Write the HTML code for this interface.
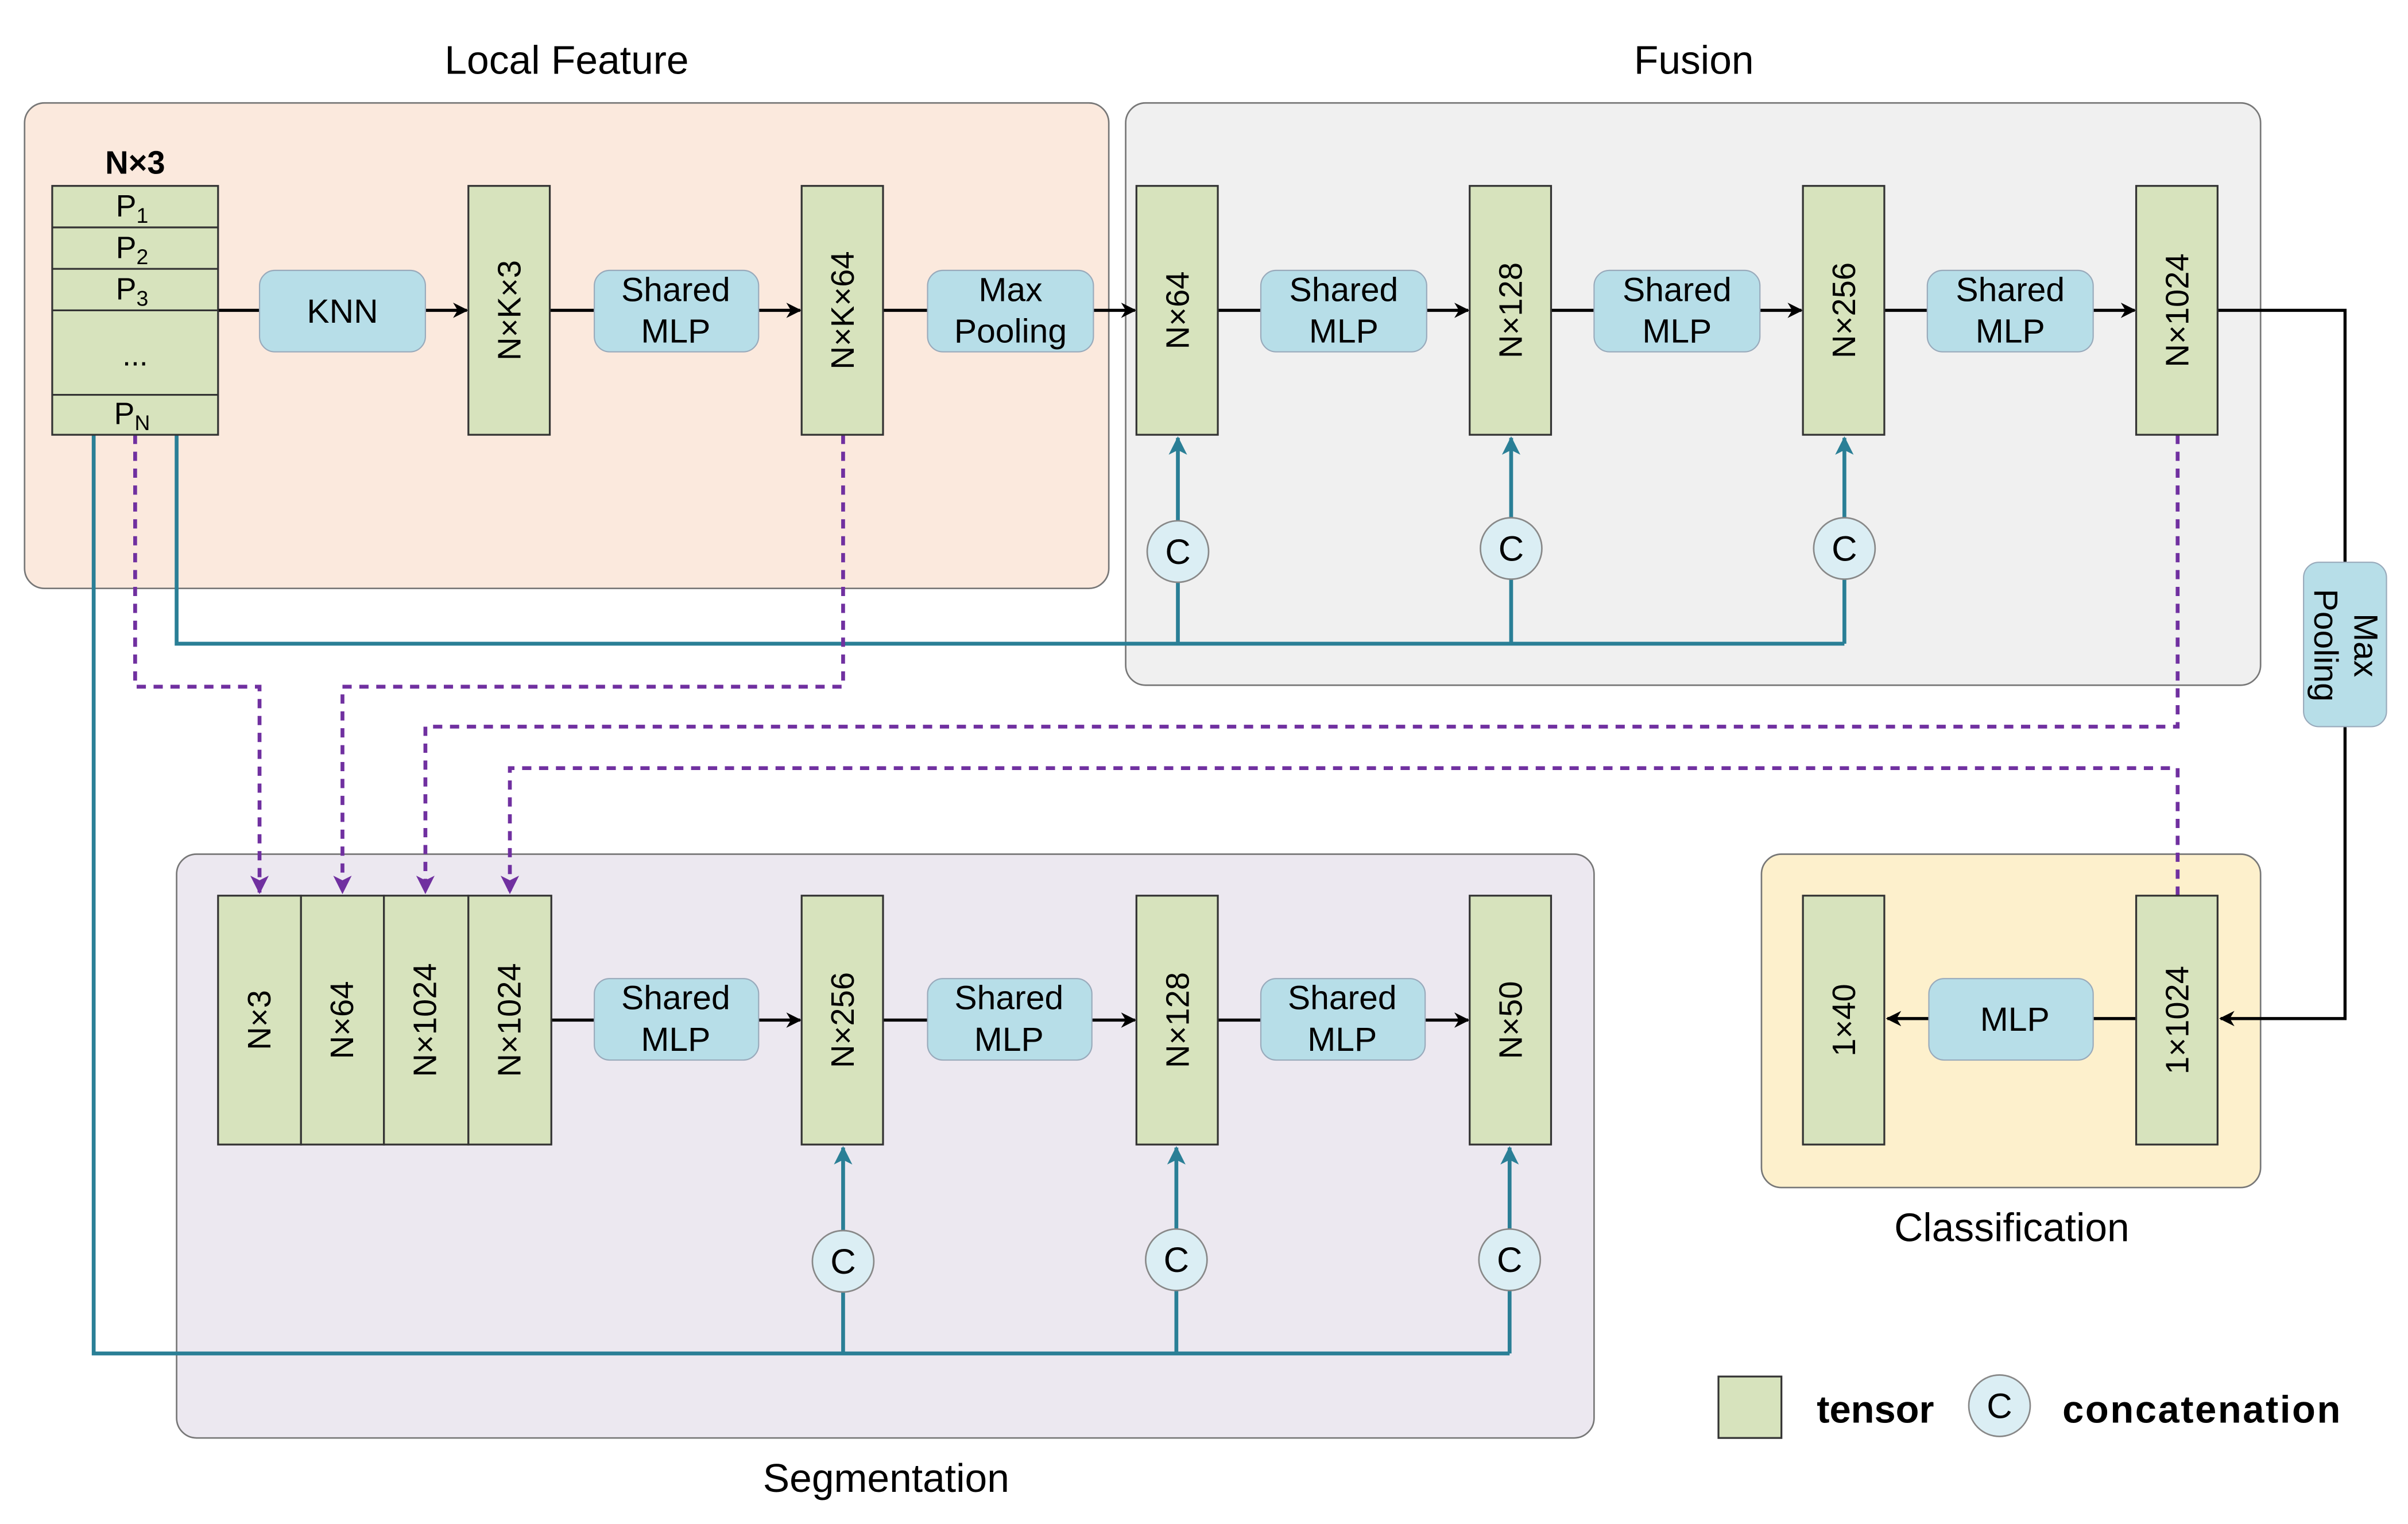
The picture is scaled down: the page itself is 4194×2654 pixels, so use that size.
<!DOCTYPE html>
<html><head><meta charset="utf-8"><style>
html,body{margin:0;padding:0;background:#fff;}
svg{display:block;}
text{font-family:"Liberation Sans",Arial,sans-serif;fill:#000;}
</style></head><body>
<svg width="4194" height="2654" viewBox="0 0 1568 992" preserveAspectRatio="none" xmlns="http://www.w3.org/2000/svg">
<defs>
<marker id="ab" markerWidth="10" markerHeight="10" refX="9" refY="5" orient="auto" markerUnits="userSpaceOnUse"><path d="M0,0 L10,5 L0,10 L3,5 Z" fill="#000"/></marker>
<marker id="at" markerWidth="12" markerHeight="12" refX="11" refY="6" orient="auto" markerUnits="userSpaceOnUse"><path d="M0,0 L12,6 L0,12 L3,6 Z" fill="#2a7f96"/></marker>
<marker id="ap" markerWidth="12" markerHeight="12" refX="11" refY="6" orient="auto" markerUnits="userSpaceOnUse"><path d="M0,0 L12,6 L0,12 L3,6 Z" fill="#7030a0"/></marker>
</defs>
<rect x="16" y="67" width="706" height="316" rx="13" fill="#fbe9dd" stroke="#777" stroke-width="1"/>
<rect x="733" y="67" width="739" height="379" rx="13" fill="#f0f0f0" stroke="#777" stroke-width="1"/>
<rect x="115" y="556" width="923" height="380" rx="13" fill="#ece8f0" stroke="#777" stroke-width="1"/>
<rect x="1147" y="556" width="325" height="217" rx="13" fill="#fdf0cc" stroke="#777" stroke-width="1"/>
<g font-size="26" text-anchor="middle">
<text x="369" y="48">Local Feature</text>
<text x="1103" y="48">Fusion</text>
<text x="577" y="971">Segmentation</text>
<text x="1310" y="808">Classification</text>
</g>

<g stroke="#000" stroke-width="2" fill="none">
<line x1="142" y1="202" x2="304" y2="202" marker-end="url(#ab)"/>
<line x1="358" y1="202" x2="521" y2="202" marker-end="url(#ab)"/>
<line x1="575" y1="202" x2="739" y2="202" marker-end="url(#ab)"/>
<line x1="793" y1="202" x2="956" y2="202" marker-end="url(#ab)"/>
<line x1="1010" y1="202" x2="1173" y2="202" marker-end="url(#ab)"/>
<line x1="1227" y1="202" x2="1390" y2="202" marker-end="url(#ab)"/>
<polyline points="1444,202 1527,202 1527,366"/>
<polyline points="1527,473 1527,663 1446,663" marker-end="url(#ab)"/>
<line x1="1391" y1="663" x2="1229" y2="663" marker-end="url(#ab)"/>
<line x1="359" y1="664" x2="521" y2="664" marker-end="url(#ab)"/>
<line x1="575" y1="664" x2="739" y2="664" marker-end="url(#ab)"/>
<line x1="793" y1="664" x2="956" y2="664" marker-end="url(#ab)"/>
</g>

<g stroke="#2a7f96" stroke-width="2.5" fill="none">
<polyline points="115,283 115,419 1201,419"/>
<line x1="767" y1="419" x2="767" y2="379"/>
<line x1="984" y1="419" x2="984" y2="377"/>
<line x1="1201" y1="419" x2="1201" y2="377"/>
<line x1="767" y1="339" x2="767" y2="285" marker-end="url(#at)"/>
<line x1="984" y1="337" x2="984" y2="285" marker-end="url(#at)"/>
<line x1="1201" y1="337" x2="1201" y2="285" marker-end="url(#at)"/>
<polyline points="61,283 61,881 983,881"/>
<line x1="549" y1="881" x2="549" y2="841"/>
<line x1="766" y1="881" x2="766" y2="840"/>
<line x1="983" y1="881" x2="983" y2="840"/>
<line x1="549" y1="801" x2="549" y2="747" marker-end="url(#at)"/>
<line x1="766" y1="800" x2="766" y2="747" marker-end="url(#at)"/>
<line x1="983" y1="800" x2="983" y2="747" marker-end="url(#at)"/>
</g>

<g stroke="#7030a0" stroke-width="2.5" fill="none" stroke-dasharray="6,5">
<polyline points="88,283 88,447 169,447 169,581" marker-end="url(#ap)"/>
<polyline points="549,283 549,447 223,447 223,581" marker-end="url(#ap)"/>
<polyline points="1418,283 1418,473 277,473 277,581" marker-end="url(#ap)"/>
<polyline points="1418,583 1418,500 332,500 332,581" marker-end="url(#ap)"/>
</g>

<g fill="#d7e3bd" stroke="#333" stroke-width="1.2">
<rect x="34" y="121" width="108" height="162"/>
<line x1="34" y1="148" x2="142" y2="148"/>
<line x1="34" y1="175" x2="142" y2="175"/>
<line x1="34" y1="202" x2="142" y2="202"/>
<line x1="34" y1="257" x2="142" y2="257"/>
<rect x="305" y="121" width="53" height="162"/>
<rect x="522" y="121" width="53" height="162"/>
<rect x="740" y="121" width="53" height="162"/>
<rect x="957" y="121" width="53" height="162"/>
<rect x="1174" y="121" width="53" height="162"/>
<rect x="1391" y="121" width="53" height="162"/>
<rect x="142" y="583" width="54" height="162"/>
<rect x="196" y="583" width="54" height="162"/>
<rect x="250" y="583" width="55" height="162"/>
<rect x="305" y="583" width="54" height="162"/>
<rect x="522" y="583" width="53" height="162"/>
<rect x="740" y="583" width="53" height="162"/>
<rect x="957" y="583" width="53" height="162"/>
<rect x="1174" y="583" width="53" height="162"/>
<rect x="1391" y="583" width="53" height="162"/>
<rect x="1119" y="896" width="41" height="40"/>
</g>

<g fill="#b7dee8" stroke="#9ab" stroke-width="0.8">
<rect x="169" y="176" width="108" height="53" rx="10"/>
<rect x="387" y="176" width="107" height="53" rx="10"/>
<rect x="604" y="176" width="108" height="53" rx="10"/>
<rect x="821" y="176" width="108" height="53" rx="10"/>
<rect x="1038" y="176" width="108" height="53" rx="10"/>
<rect x="1255" y="176" width="108" height="53" rx="10"/>
<rect x="1500" y="366" width="54" height="107" rx="10"/>
<rect x="1256" y="637" width="107" height="53" rx="10"/>
<rect x="387" y="637" width="107" height="53" rx="10"/>
<rect x="604" y="637" width="107" height="53" rx="10"/>
<rect x="821" y="637" width="107" height="53" rx="10"/>
</g>
<g font-size="22" text-anchor="middle">
<text x="223" y="210">KNN</text>
<text x="440" y="196">Shared</text><text x="440" y="223">MLP</text>
<text x="658" y="196">Max</text><text x="658" y="223">Pooling</text>
<text x="875" y="196">Shared</text><text x="875" y="223">MLP</text>
<text x="1092" y="196">Shared</text><text x="1092" y="223">MLP</text>
<text x="1309" y="196">Shared</text><text x="1309" y="223">MLP</text>
<text x="1312" y="671">MLP</text>
<text x="440" y="657">Shared</text><text x="440" y="684">MLP</text>
<text x="657" y="657">Shared</text><text x="657" y="684">MLP</text>
<text x="874" y="657">Shared</text><text x="874" y="684">MLP</text>
<g transform="translate(1527,420) rotate(90)"><text x="0" y="-6">Max</text><text x="0" y="20">Pooling</text></g>
</g>

<text x="88" y="113" font-size="21" font-weight="bold" text-anchor="middle">N×3</text>
<g font-size="20" text-anchor="middle">
<text x="86" y="141">P<tspan font-size="14" dy="4">1</tspan></text>
<text x="86" y="168">P<tspan font-size="14" dy="4">2</tspan></text>
<text x="86" y="195">P<tspan font-size="14" dy="4">3</tspan></text>
<text x="88" y="238">...</text>
<text x="86" y="276">P<tspan font-size="14" dy="4">N</tspan></text>
</g>

<g font-size="21" text-anchor="middle">
<text transform="translate(339,202) rotate(-90)">N×K×3</text>
<text transform="translate(556,202) rotate(-90)">N×K×64</text>
<text transform="translate(774,202) rotate(-90)">N×64</text>
<text transform="translate(991,202) rotate(-90)">N×128</text>
<text transform="translate(1208,202) rotate(-90)">N×256</text>
<text transform="translate(1425,202) rotate(-90)">N×1024</text>
<text transform="translate(176,664) rotate(-90)">N×3</text>
<text transform="translate(230,664) rotate(-90)">N×64</text>
<text transform="translate(284,664) rotate(-90)">N×1024</text>
<text transform="translate(339,664) rotate(-90)">N×1024</text>
<text transform="translate(556,664) rotate(-90)">N×256</text>
<text transform="translate(774,664) rotate(-90)">N×128</text>
<text transform="translate(991,664) rotate(-90)">N×50</text>
<text transform="translate(1208,664) rotate(-90)">1×40</text>
<text transform="translate(1425,664) rotate(-90)">1×1024</text>
</g>

<g fill="#dbeef4" stroke="#888" stroke-width="1">
<circle cx="767" cy="359" r="20"/><circle cx="984" cy="357" r="20"/><circle cx="1201" cy="357" r="20"/>
<circle cx="549" cy="821" r="20"/><circle cx="766" cy="820" r="20"/><circle cx="983" cy="820" r="20"/>
<circle cx="1302" cy="915" r="20"/>
</g>
<g font-size="23" text-anchor="middle">
<text x="767" y="367">C</text><text x="984" y="365">C</text><text x="1201" y="365">C</text>
<text x="549" y="829">C</text><text x="766" y="828">C</text><text x="983" y="828">C</text>
<text x="1302" y="923">C</text>
</g>
<text x="1183" y="926" font-size="25" font-weight="bold">tensor</text>
<text x="1343" y="926" font-size="25" font-weight="bold" textLength="181">concatenation</text>
</svg>
</body></html>
